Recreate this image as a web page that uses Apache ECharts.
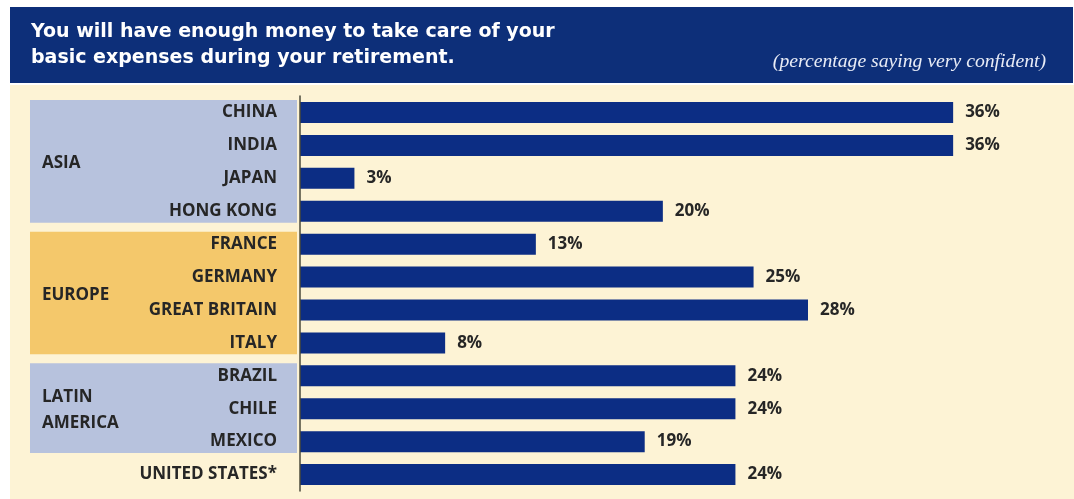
<!DOCTYPE html>
<html>
<head>
<meta charset="utf-8">
<script src="https://cdn.jsdelivr.net/npm/echarts@6/dist/echarts.min.js"></script>
<style>
  html, body { margin: 0; padding: 0; background: #ffffff; }
  #chart { width: 1074px; height: 499px; }
</style>
</head>
<body>
<div id="chart"></div>
<script>
  const countries = ["CHINA", "INDIA", "JAPAN", "HONG KONG", "FRANCE", "GERMANY", "GREAT BRITAIN", "ITALY", "BRAZIL", "CHILE", "MEXICO", "UNITED STATES*"];
  const values = [36, 36, 3, 20, 13, 25, 28, 8, 24, 24, 19, 24];
  const regionNames = ["ASIA", "EUROPE", "LATIN\nAMERICA"];
  const regionFirst = [0, 4, 8];
  const regionLast = [3, 7, 10];
  const regionColors = ["#b7c2dd", "#f4c86b", "#b7c2dd"];

  const titleText = "You will have enough money to take care of your\nbasic expenses during your retirement.";
  const noteText = "(percentage saying very confident)";

  const chart = echarts.init(document.getElementById("chart"));

  const regionData = regionNames.map(function (name, i) {
    return [regionFirst[i], regionLast[i], name, regionColors[i]];
  });

  const labelFont = "Open Sans";

  chart.setOption({
    animation: false,
    backgroundColor: "#ffffff",
    graphic: [
      { type: "rect", z: -10, shape: { x: 10, y: 85, width: 1064, height: 414 }, style: { fill: "#fdf3d5" } },
      { type: "rect", z: -10, shape: { x: 10, y: 7, width: 1063, height: 76 }, style: { fill: "#0d2f79" } }
    ],
    title: [
      {
        text: titleText,
        left: 26,
        top: 14,
        textStyle: { color: "#ffffff", fontSize: 19, fontWeight: "bold", fontFamily: "DejaVu Sans", lineHeight: 26 }
      },
      {
        text: noteText,
        right: 23,
        top: 47,
        textStyle: { color: "#e8ecf6", fontSize: 19.7, fontWeight: "normal", fontStyle: "italic", fontFamily: "Liberation Serif" }
      }
    ],
    grid: [
      { left: 300, top: 96, width: 762, height: 395 },
      { left: 30, top: 96, width: 267, height: 395 }
    ],
    xAxis: [
      { gridIndex: 0, type: "value", min: 0, max: 42, show: false },
      { gridIndex: 1, type: "value", min: 0, max: 1, show: false }
    ],
    yAxis: [
      {
        gridIndex: 0,
        type: "category",
        inverse: true,
        data: countries,
        axisLine: { show: true, lineStyle: { color: "#4a4a3a", width: 1.5 } },
        axisTick: { show: false },
        splitLine: { show: false },
        axisLabel: {
          margin: 23,
          color: "#262626",
          fontSize: 17,
          fontWeight: "bold",
          fontFamily: labelFont
        },
        z: 5
      },
      {
        gridIndex: 1,
        type: "category",
        inverse: true,
        data: countries,
        show: false
      }
    ],
    series: [
      {
        type: "custom",
        xAxisIndex: 1,
        yAxisIndex: 1,
        z: 1,
        data: regionData,
        renderItem: function (params, api) {
          const first = api.value(0);
          const last = api.value(1);
          const band = api.size([0, 1])[1];
          const top = api.coord([0, first])[1] - band / 2 + 4;
          const bottom = api.coord([0, last])[1] + band / 2 - 5;
          const cs = params.coordSys;
          const item = regionData[params.dataIndex];
          return {
            type: "group",
            children: [
              {
                type: "rect",
                shape: { x: cs.x, y: top, width: cs.width, height: bottom - top },
                style: { fill: item[3] }
              },
              {
                type: "text",
                style: {
                  x: cs.x + 12,
                  y: (top + bottom) / 2 + 2,
                  text: item[2],
                  fill: "#262626",
                  font: "bold 17px " + labelFont,
                  lineHeight: 26,
                  verticalAlign: "middle",
                  align: "left"
                }
              }
            ]
          };
        }
      },
      {
        type: "bar",
        xAxisIndex: 0,
        yAxisIndex: 0,
        data: values,
        barWidth: 21,
        itemStyle: { color: "#0c2d84" },
        label: {
          show: true,
          position: "right",
          distance: 12,
          formatter: "{c}%",
          color: "#262626",
          fontSize: 17,
          fontWeight: "bold",
          fontFamily: labelFont
        }
      }
    ]
  });
</script>
</body>
</html>
